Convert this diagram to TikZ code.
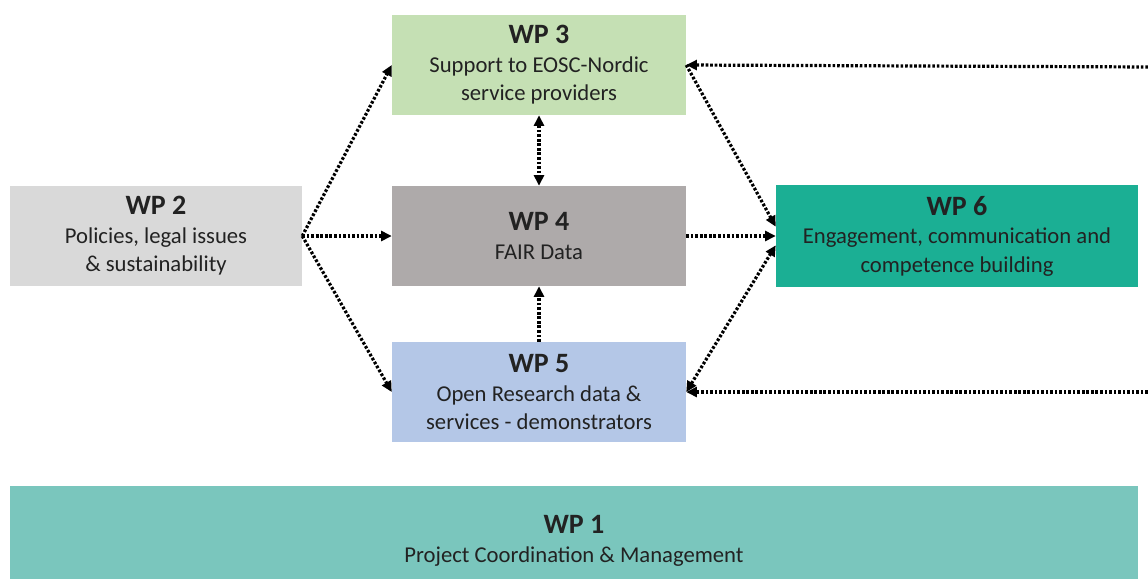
\documentclass[tikz,border=0pt]{standalone}
\usepackage{fontspec}
\setmainfont{Carlito}
\usepackage{color}
\usepackage{tikz}
\usetikzlibrary{arrows.meta}

\definecolor{wpgreen}{HTML}{C5E0B4}
\definecolor{wpgray}{HTML}{D9D9D9}
\definecolor{wpdark}{HTML}{AEAAAA}
\definecolor{wpteal}{HTML}{1BAF94}
\definecolor{wpblue}{HTML}{B4C7E7}
\definecolor{wpmint}{HTML}{7AC6BD}
\definecolor{wptext}{HTML}{222222}

\begin{document}
\begin{tikzpicture}[x=0.75pt,y=-0.75pt]
  \tikzstyle{wp} = [rectangle, fill, inner sep=0pt, align=center, text=wptext,
    minimum width=220.5pt, minimum height=75pt, font=\fontsize{17}{21.3}\selectfont]
  \tikzstyle{e} = [line width=2.4pt, dash pattern=on 2pt off 1.4pt, -{Triangle[length=8pt,width=7.5pt]}];
  \tikzstyle{ee} = [e, {Triangle[length=8pt,width=7.5pt]}-{Triangle[length=8pt,width=7.5pt]}];
  \useasboundingbox (0,0) rectangle (1148,578);

  \node[wp, fill=wpgreen](w3) at (539,65){\textbf{\fontsize{21}{20}\selectfont WP 3}\\Support to EOSC-Nordic\\service providers};
  \node[wp, fill=wpgray, minimum width=219pt](w2) at (156,236){\textbf{\fontsize{21}{20}\selectfont WP 2}\\Policies, legal issues\\\& sustainability};
  \node[wp, fill=wpdark](w4) at (539,236){\textbf{\fontsize{21}{20}\selectfont WP 4}\\FAIR Data};
  \node[wp, fill=wpteal, minimum width=271.5pt, minimum height=76.5pt](w6) at (957,236){\textbf{\fontsize{21}{20}\selectfont WP 6}\\Engagement, communication and\\competence building};
  \node[wp, fill=wpblue](w5) at (539,392){\textbf{\fontsize{21}{20}\selectfont WP 5}\\Open Research data \&\\services - demonstrators};
  \node[wp, fill=wpmint, minimum width=846pt, minimum height=82.5pt](w1) at (574,541){\textbf{\fontsize{21}{20}\selectfont WP 1}\\Project Coordination \& Management};

  \coordinate(r3) at (1148,67);
  \coordinate(r5) at (1148,392);

  \draw[e](w2.east)--(w3.west);
  \draw[e](w2.east)--(w4.west);
  \draw[e](w2.east)--(w5.west);
  \draw[ee](w3.south)--(w4.north);
  \draw[e](w5.north)--(w4.south);
  \draw[e](w4.east)--(w6.west);
  \draw[e](w3.east)--([yshift=7pt]w6.west);
  \draw[ee](w5.east)--([yshift=-7pt]w6.west);
  \draw[e](r3)--(w3.east);
  \draw[e](r5)--(w5.east);

  \end{tikzpicture}
\end{document}
